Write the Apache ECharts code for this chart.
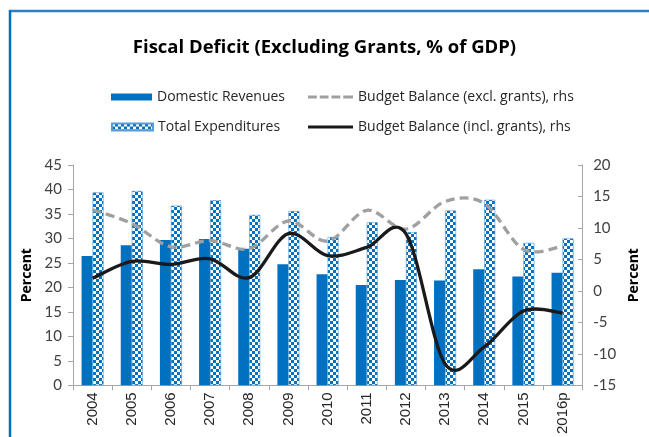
<!DOCTYPE html>
<html>
<head>
<meta charset="utf-8">
<script src="https://cdn.jsdelivr.net/npm/echarts@6/dist/echarts.min.js"></script>
<style>
  html, body { margin: 0; padding: 0; background: #ffffff; }
  #chart { width: 649px; height: 437px; }
</style>
</head>
<body>
<div id="chart"></div>
<script>
// Fiscal years on the category axis
const years = ['2004', '2005', '2006', '2007', '2008', '2009', '2010', '2011', '2012', '2013', '2014', '2015', '2016p'];

// Left axis: % of GDP
const domesticRevenues = [26.4, 28.6, 29.7, 29.9, 27.9, 24.7, 22.7, 20.5, 21.5, 21.4, 23.7, 22.2, 23.0];
const totalExpenditures = [39.4, 39.7, 36.7, 37.8, 34.8, 35.6, 30.3, 33.3, 31.3, 35.7, 37.9, 29.1, 30.0];

// Right axis: budget balance, % of GDP
const balanceExclGrants = [12.9, 10.7, 7.0, 8.0, 6.7, 11.1, 7.9, 12.8, 9.8, 14.2, 13.9, 6.6, 7.1];
const balanceInclGrants = [2.0, 4.7, 4.2, 5.1, 2.1, 9.1, 5.6, 6.9, 9.1, -11.6, -8.9, -3.2, -3.5];

// Axis tick setup
const leftTicks = { min: 0, max: 45, interval: 5 };
const rightTicks = { min: -15, max: 20, interval: 5 };

const BLUE = '#0070C0';
const GREY = '#A0A0A0';
const BLACK = '#1A1A1A';
const FONT = 'Open Sans';
const NUM_FONT = 'Lato';

// Blue/white checker fill for the expenditure bars
function checkerPattern() {
  const c = document.createElement('canvas');
  c.width = 6; c.height = 6;
  const ctx = c.getContext('2d');
  ctx.fillStyle = BLUE;
  ctx.fillRect(0, 0, 6, 6);
  ctx.fillStyle = '#ffffff';
  ctx.fillRect(0, 0, 3, 3);
  ctx.fillRect(3, 3, 3, 3);
  return c;
}
const pattern = { image: checkerPattern(), repeat: 'repeat' };

// Smooth curve through the points (Catmull-Rom as cubic Beziers),
// positioned with the chart's own axes via api.coord
function smoothCurve(values, dash, color) {
  return function (params, api) {
    if (params.dataIndex !== 0) return null;
    const pts = values.map((v, i) => api.coord([i, v]));
    const n = pts.length;
    let d = 'M' + pts[0][0] + ',' + pts[0][1];
    for (let i = 0; i < n - 1; i++) {
      const p0 = pts[Math.max(i - 1, 0)];
      const p1 = pts[i];
      const p2 = pts[i + 1];
      const p3 = pts[Math.min(i + 2, n - 1)];
      const c1x = p1[0] + (p2[0] - p0[0]) / 6;
      const c1y = p1[1] + (p2[1] - p0[1]) / 6;
      const c2x = p2[0] - (p3[0] - p1[0]) / 6;
      const c2y = p2[1] - (p3[1] - p1[1]) / 6;
      d += ' C' + c1x + ',' + c1y + ' ' + c2x + ',' + c2y + ' ' + p2[0] + ',' + p2[1];
    }
    return {
      type: 'path',
      shape: { pathData: d },
      style: { fill: 'none', stroke: color, lineWidth: 3.3, lineDash: dash, lineCap: 'butt', lineJoin: 'round' }
    };
  };
}

const chart = echarts.init(document.getElementById('chart'), null, { renderer: 'canvas' });

const legendText = { fontFamily: FONT, fontSize: 14, color: '#262626' };
const dashIcon = 'path://M0,0h9v3h-9z M12,0h9v3h-9z M24,0h9v3h-9z M36,0h10v3h-10z';
const solidIcon = 'path://M0,0h46v3h-46z';

chart.setOption({
  backgroundColor: '#ffffff',
  animation: false,
  title: {
    text: 'Fiscal Deficit (Excluding Grants, % of GDP)',
    left: 'center',
    top: 33,
    textStyle: { fontFamily: FONT, fontSize: 18.5, fontWeight: 'bold', color: '#000000' }
  },
  legend: [
    { left: 106, top: 85, itemWidth: 41, itemHeight: 7, textStyle: legendText,
      data: [{ name: 'Domestic Revenues', icon: 'rect' }] },
    { left: 106, top: 115, itemWidth: 41, itemHeight: 7, textStyle: legendText,
      data: [{ name: 'Total Expenditures', icon: 'rect' }] },
    { left: 303, top: 85, itemWidth: 45, itemHeight: 3, textStyle: legendText,
      data: [{ name: 'Budget Balance (excl. grants), rhs', icon: dashIcon }] },
    { left: 303, top: 115, itemWidth: 45, itemHeight: 3, textStyle: legendText,
      data: [{ name: 'Budget Balance (incl. grants), rhs', icon: solidIcon }] }
  ],
  grid: { left: 73, right: 59, top: 165, bottom: 50 },
  xAxis: {
    type: 'category',
    data: years,
    boundaryGap: true,
    axisLine: { lineStyle: { color: '#A6A6A6', width: 1 } },
    axisTick: { show: true, alignWithLabel: false, length: 5, lineStyle: { color: '#A6A6A6' } },
    axisLabel: { interval: 0, rotate: 90, margin: 7, fontFamily: 'Liberation Sans', fontSize: 15, color: '#262626' },
    splitLine: { show: false }
  },
  yAxis: [
    {
      type: 'value',
      position: 'left',
      min: leftTicks.min, max: leftTicks.max, interval: leftTicks.interval,
      name: 'Percent',
      nameLocation: 'middle',
      nameGap: 39,
      nameRotate: 90,
      nameTextStyle: { fontFamily: FONT, fontSize: 14, fontWeight: 'bold', color: '#000000' },
      axisLine: { show: true, lineStyle: { color: '#A6A6A6' } },
      axisTick: { show: true, length: 5, lineStyle: { color: '#A6A6A6' } },
      axisLabel: { margin: 11, fontFamily: NUM_FONT, fontSize: 15, color: '#404040' },
      splitLine: { show: false }
    },
    {
      type: 'value',
      position: 'right',
      min: rightTicks.min, max: rightTicks.max, interval: rightTicks.interval,
      name: 'Percent',
      nameLocation: 'middle',
      nameGap: 34,
      nameRotate: 90,
      nameTextStyle: { fontFamily: FONT, fontSize: 14, fontWeight: 'bold', color: '#000000' },
      axisLine: { show: true, lineStyle: { color: '#A6A6A6' } },
      axisTick: { show: true, inside: true, length: 4, lineStyle: { color: '#A6A6A6' } },
      axisLabel: { margin: 11, fontFamily: NUM_FONT, fontSize: 15, color: '#404040' },
      splitLine: { show: false }
    }
  ],
  series: [
    {
      name: 'Domestic Revenues',
      type: 'bar',
      yAxisIndex: 0,
      data: domesticRevenues,
      barWidth: 11,
      barGap: '0%',
      itemStyle: { color: BLUE }
    },
    {
      name: 'Total Expenditures',
      type: 'bar',
      yAxisIndex: 0,
      data: totalExpenditures,
      barWidth: 11,
      barGap: '0%',
      itemStyle: { color: pattern, borderColor: '#5B9BD5', borderWidth: 0.6 }
    },
    {
      name: 'Budget Balance (excl. grants), rhs',
      type: 'custom',
      yAxisIndex: 1,
      data: balanceExclGrants.map((v, i) => [i, v]),
      encode: { x: 0, y: 1 },
      renderItem: smoothCurve(balanceExclGrants, [9, 5], GREY),
      itemStyle: { color: GREY },
      z: 3
    },
    {
      name: 'Budget Balance (incl. grants), rhs',
      type: 'custom',
      yAxisIndex: 1,
      data: balanceInclGrants.map((v, i) => [i, v]),
      encode: { x: 0, y: 1 },
      renderItem: smoothCurve(balanceInclGrants, null, BLACK),
      itemStyle: { color: BLACK },
      z: 4
    }
  ],
  graphic: [
    { type: 'line', shape: { x1: 9, y1: 11, x2: 649, y2: 11 },
      style: { stroke: '#2C7FC8', lineWidth: 2.5 }, silent: true },
    { type: 'line', shape: { x1: 10, y1: 10, x2: 10, y2: 437 },
      style: { stroke: BLUE, lineWidth: 2.5 }, silent: true }
  ]
});
</script>
</body>
</html>
